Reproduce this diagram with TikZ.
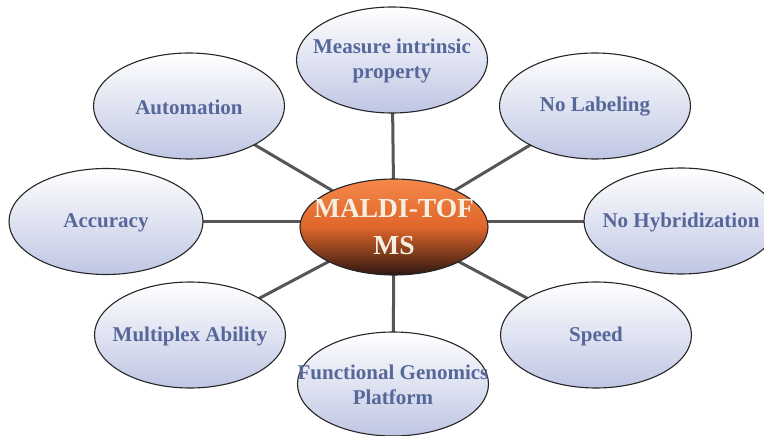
\documentclass[tikz,border=0pt]{standalone}
\usepackage{fontspec}
\setmainfont{Liberation Serif}
\usetikzlibrary{shapes.geometric,backgrounds}
\definecolor{txtblue}{HTML}{56679A}
\definecolor{satbot}{HTML}{BFC6E3}
\definecolor{linegray}{HTML}{595555}
\definecolor{hubtop}{HTML}{F5884A}
\definecolor{hubmid}{HTML}{E0662A}
\definecolor{hubbot}{HTML}{2E1712}
\definecolor{hubtxt}{HTML}{F3F0E2}
\begin{document}
\begin{tikzpicture}[x=1pt,y=-1pt,
  sat/.style={ellipse, draw=black!85, line width=1.1pt, inner sep=0pt,
    minimum width=191pt, minimum height=106pt,
    top color=white, bottom color=satbot,
    label={[font=\bfseries\fontsize{21}{25.5}\selectfont, text=txtblue, align=center, yshift=-1pt]center:#1}},
  hub/.style={ellipse, draw=black!85, line width=1.1pt, inner sep=0pt,
    minimum width=188pt, minimum height=96pt,
    top color=hubtop, bottom color=hubbot, middle color=hubmid,
    label={[font=\bfseries\fontsize{27.5}{37}\selectfont, text=hubtxt, align=center]center:#1}},
  spoke/.style={draw=linegray, line width=3pt}]
\useasboundingbox (0,0) rectangle (764,436);
\node[hub={MALDI-TOF\\MS}] (c) at (394,227) {};
\node[sat={Measure intrinsic\\property}] (n) at (392,60) {};
\node[sat={No Labeling}] (ne) at (595,106) {};
\node[sat={No Hybridization}, minimum width=194pt] (e) at (681,221) {};
\node[sat={Speed}] (se) at (596,335) {};
\node[sat={Functional Genomics\\Platform}, minimum height=104pt] (s) at (393,384) {};
\node[sat={Multiplex Ability}] (sw) at (190,335) {};
\node[sat={Accuracy}, minimum width=194pt, minimum height=106pt] (w) at (106,221.5) {};
\node[sat={Automation}] (nw) at (189,106) {};
\begin{scope}[on background layer]
  \draw[spoke] (c.center) -- (n.center);
  \draw[spoke] (c.center) -- (ne.center);
  \draw[spoke] (c.center |- e.center) -- (e.center);
  \draw[spoke] (c.center) -- (se.center);
  \draw[spoke] (c.center) -- (s.center);
  \draw[spoke] (c.center) -- (sw.center);
  \draw[spoke] (c.center |- w.center) -- (w.center);
  \draw[spoke] (c.center) -- (nw.center);
\end{scope}
\end{tikzpicture}
\end{document}
